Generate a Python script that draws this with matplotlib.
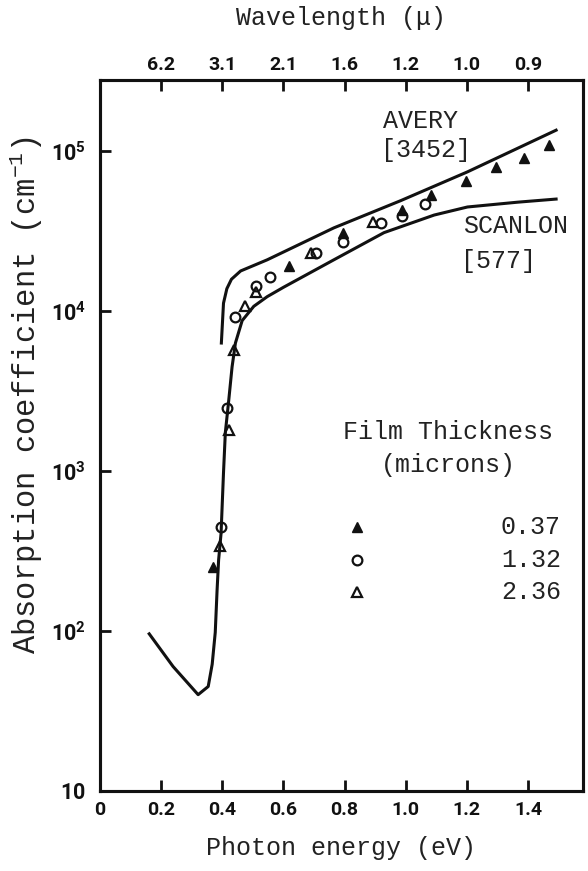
import numpy as np
import matplotlib
matplotlib.use("Agg")
import matplotlib.pyplot as plt

plt.rcParams['mathtext.fontset'] = 'custom'
plt.rcParams['mathtext.rm'] = 'Liberation Mono'
plt.rcParams['mathtext.tt'] = 'Liberation Mono'
plt.rcParams['mathtext.bf'] = 'Roboto:bold'

# Scanlon [577] curve (photon energy eV, absorption cm^-1)
scanlon_e = [0.161, 0.239, 0.321, 0.354, 0.367, 0.377, 0.383, 0.388, 0.396, 0.404,
             0.410, 0.421, 0.432, 0.443, 0.465, 0.503, 0.547, 0.601, 0.765, 0.929,
             1.093, 1.202, 1.366, 1.492]
scanlon_a = [96, 60, 40, 45, 62, 98, 180, 278, 407, 977,
             1740, 2750, 4470, 6310, 8710, 10700, 12300, 14100, 20900, 30900,
             39800, 44700, 47900, 50100]

# Avery [3452] curve
avery_e = [0.397, 0.404, 0.415, 0.430, 0.460, 0.547, 0.765, 0.984, 1.202, 1.492]
avery_a = [6310, 11200, 13800, 15800, 17800, 20900, 33100, 49000, 74100, 135000]

# film thickness 0.37 micron (filled triangles)
f037_e = [0.371, 0.617, 0.796, 0.989, 1.082, 1.197, 1.295, 1.388, 1.470]
f037_a = [251, 19200, 30800, 42700, 53100, 64600, 79400, 89900, 109000]

# 1.32 micron (open circles)
f132_e = [0.397, 0.415, 0.443, 0.511, 0.555, 0.708, 0.796, 0.918, 0.989, 1.062]
f132_a = [447, 2460, 9120, 14400, 16300, 23000, 27100, 35600, 39200, 46900]

# 2.36 micron (open triangles)
f236_e = [0.393, 0.423, 0.437, 0.475, 0.511, 0.689, 0.894]
f236_a = [338, 1810, 5740, 10700, 13200, 23000, 36100]

x_ticks = [0, 0.2, 0.4, 0.6, 0.8, 1.0, 1.2, 1.4]
x_labels = ['0', '0.2', '0.4', '0.6', '0.8', '1.0', '1.2', '1.4']
top_ticks = [0.2, 0.4, 0.6, 0.8, 1.0, 1.2, 1.4]
top_labels = ['6.2', '3.1', '2.1', '1.6', '1.2', '1.0', '0.9']
y_ticks = [10, 1e2, 1e3, 1e4, 1e5]
y_labels = [r'$\mathbf{10}$', r'$\mathbf{10^2}$', r'$\mathbf{10^3}$',
            r'$\mathbf{10^4}$', r'$\mathbf{10^5}$']

mono = 'Liberation Mono'
W, H = 588, 871
ink = '#111111'

fig = plt.figure(figsize=(W / 100, H / 100), dpi=100)
ax = fig.add_axes([100 / W, 1 - 791 / H, 483 / W, 711 / H])

ax.plot(scanlon_e, scanlon_a, color=ink, lw=2.2, solid_joinstyle='round')
ax.plot(avery_e, avery_a, color=ink, lw=2.2, solid_joinstyle='round')
ax.plot(f037_e, f037_a, ls='none', marker='^', ms=7, color=ink)
ax.plot(f132_e, f132_a, ls='none', marker='o', ms=7, mfc='none', mec=ink, mew=1.6)
ax.plot(f236_e, f236_a, ls='none', marker='^', ms=7, mfc='none', mec=ink, mew=1.6)

ax.set_yscale('log')
ax.set_xlim(0, 1.58)
ax.set_ylim(10, 2.78e5)
ax.minorticks_off()

ax.set_xticks(x_ticks)
ax.set_xticklabels(x_labels, fontfamily='Roboto', fontweight='bold', fontsize=14)
ax.set_yticks(y_ticks)
ax.set_yticklabels(y_labels, fontsize=15.5)
ax.tick_params(axis='x', direction='in', length=8, width=2, pad=7, colors=ink)
ax.tick_params(axis='y', direction='in', length=8, width=2, pad=10, colors=ink)

top = ax.twiny()
top.set_xlim(ax.get_xlim())
top.set_xticks(top_ticks)
top.set_xticklabels(top_labels, fontfamily='Roboto', fontweight='bold', fontsize=14)
top.tick_params(axis='x', direction='in', length=8, width=2, pad=4, colors=ink)

for a in (ax, top):
    for s in a.spines.values():
        s.set_linewidth(2.2)
        s.set_color(ink)

fs = 18


def put(x, y, s, ha='left', size=fs, rot=0):
    fig.text(x / W, 1 - y / H, s, fontfamily=mono, fontsize=size, va='center', ha=ha,
             rotation=rot, color='#222222')


put(341, 848, 'Photon energy (eV)', ha='center')
put(341, 18, 'Wavelength (\u03bc)', ha='center')
put(26, 395, 'Absorption coefficient (cm$^{-1}$)', ha='center', size=22, rot=90)

# curve labels
put(383, 121, 'AVERY')
put(381, 150, '[3452]')
put(463, 226, 'SCANLON')
put(461, 261, '[577]')

# legend
put(448, 432, 'Film Thickness', ha='center')
put(448, 465, '(microns)', ha='center')
legend_vals = ['0.37', '1.32', '2.36']
legend_y = [527, 560, 592]
styles = [dict(marker='^', color=ink),
          dict(marker='o', mfc='none', mec=ink, mew=1.6),
          dict(marker='^', mfc='none', mec=ink, mew=1.6)]
for val, yy, st in zip(legend_vals, legend_y, styles):
    put(561, yy, val, ha='right')
    fig.add_artist(plt.Line2D([357 / W], [1 - yy / H], ls='none', ms=7, **st))

fig.savefig('out.png', dpi=100, facecolor='white')
